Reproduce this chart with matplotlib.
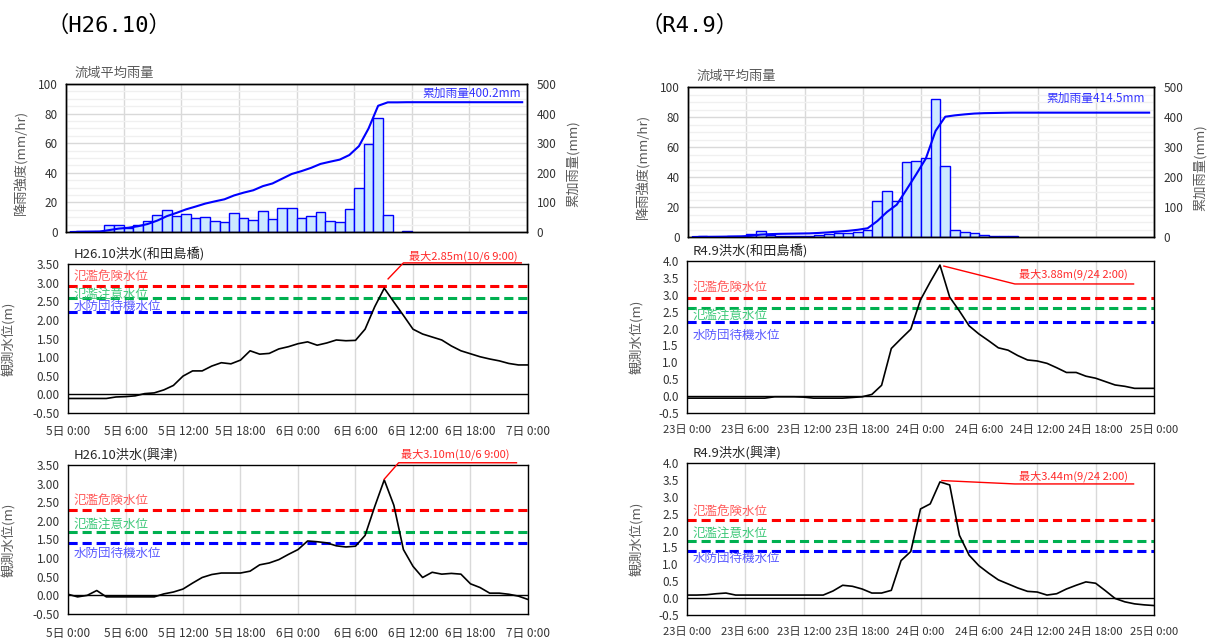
import matplotlib
matplotlib.use("Agg")
import matplotlib.pyplot as plt
import numpy as np
from matplotlib.ticker import FormatStrFormatter, MultipleLocator

plt.rcParams['font.family'] = ['Noto Sans CJK JP', 'DejaVu Sans']

W, H = 1221, 643

# ---------------------------------------------------------------- data
hours = list(range(49))

# hourly basin-average rainfall (mm/hr), one value per hour
h26_rain = [0, 0.5, 0.5, 0.5, 5, 5, 3, 5, 7.5, 11.5, 15, 11, 12, 9.5, 10, 7.5,
            7, 13, 9.5, 8, 14, 9, 16, 16, 9.5, 11, 13.5, 7.5, 7, 15.5, 30, 59.5,
            77, 11.5, 0, 0.5, 0, 0, 0, 0, 0, 0, 0, 0, 0, 0, 0, 0]
r4_rain = [0, 0.5, 0.3, 0.3, 0.5, 0.5, 2.0, 4.0, 1.5, 1.0, 0.5, 0.5, 0.5, 1.5,
           2.0, 2.5, 2.5, 3.5, 5.0, 24.0, 30.5, 24.0, 50.0, 51.0, 53.0, 92.0,
           47.4, 4.5, 3.3, 2.7, 1.3, 0.6, 0.6, 0.5, 0, 0, 0, 0, 0, 0, 0, 0, 0,
           0, 0, 0, 0, 0]
h26_total_label = "累加雨量400.2mm"
r4_total_label = "累加雨量414.5mm"

# observed water levels (m), hourly
h26_wadajima = [-0.11, -0.11, -0.11, -0.11, -0.11, -0.07, -0.06, -0.04, 0.02, 0.04,
                0.12, 0.24, 0.49, 0.63, 0.63, 0.76, 0.85, 0.82, 0.92, 1.17,
                1.08, 1.10, 1.22, 1.28, 1.36, 1.41, 1.32, 1.38, 1.46, 1.44,
                1.45, 1.75, 2.35, 2.85, 2.48, 2.12, 1.75, 1.62, 1.54, 1.46,
                1.30, 1.17, 1.09, 1.01, 0.95, 0.90, 0.83, 0.79, 0.79]
h26_okitsu = [0.03, -0.04, 0.00, 0.13, -0.04, -0.04, -0.04, -0.04, -0.04, -0.04,
              0.04, 0.09, 0.17, 0.33, 0.48, 0.56, 0.60, 0.60, 0.60, 0.65,
              0.82, 0.87, 0.96, 1.10, 1.23, 1.46, 1.44, 1.41, 1.33, 1.30,
              1.32, 1.61, 2.38, 3.10, 2.42, 1.23, 0.78, 0.48, 0.62, 0.57,
              0.59, 0.57, 0.31, 0.21, 0.06, 0.06, 0.03, -0.02, -0.11]
r4_wadajima = [-0.06, -0.06, -0.06, -0.06, -0.06, -0.06, -0.06, -0.06, -0.06, -0.02,
               -0.02, -0.02, -0.03, -0.06, -0.06, -0.06, -0.06, -0.04, -0.02, 0.05,
               0.32, 1.41, 1.70, 1.98, 2.85, 3.38, 3.88, 2.93, 2.52, 2.08,
               1.84, 1.64, 1.43, 1.36, 1.20, 1.07, 1.04, 0.97, 0.84, 0.70,
               0.70, 0.59, 0.53, 0.43, 0.33, 0.29, 0.23, 0.23, 0.23]
r4_okitsu = [0.09, 0.09, 0.10, 0.13, 0.15, 0.09, 0.09, 0.09, 0.09, 0.09,
             0.09, 0.09, 0.09, 0.09, 0.09, 0.21, 0.38, 0.35, 0.27, 0.15,
             0.15, 0.23, 1.11, 1.38, 2.64, 2.79, 3.44, 3.35, 1.86, 1.27,
             0.96, 0.74, 0.54, 0.42, 0.30, 0.20, 0.18, 0.09, 0.13, 0.27,
             0.38, 0.48, 0.44, 0.22, -0.01, -0.11, -0.17, -0.20, -0.22]

# warning levels: danger, caution, standby
level_names = ["氾濫危険水位", "氾濫注意水位", "水防団待機水位"]
wadajima_levels = [2.90, 2.60, 2.20]
okitsu_levels = [2.30, 1.70, 1.40]

h26_ticks = ["5日 0:00", "5日 6:00", "5日 12:00", "5日 18:00", "6日 0:00",
             "6日 6:00", "6日 12:00", "6日 18:00", "7日 0:00"]
r4_ticks = ["23日 0:00", "23日 6:00", "23日 12:00", "23日 18:00", "24日 0:00",
            "24日 6:00", "24日 12:00", "24日 18:00", "25日 0:00"]

# event start (month, day) used to stamp the peak time
h26_start = (10, 5)
r4_start = (9, 23)

# ---------------------------------------------------------------- styles
LINE_COLS = ['#FF0000', '#00B050', '#0000FF']
TEXT_COLS = ['#FF5A5A', '#3CC878', '#5A5AFF']
TICK_COL = '#333333'
LABEL_COL = '#595959'

fig = plt.figure(figsize=(W / 100, H / 100), dpi=100)


def px_rect(l, t, r, b):
    return [l / W, 1 - b / H, (r - l) / W, (b - t) / H]


def fx(x):
    return x / W


def fy(y):
    return 1 - y / H


def style_spines(ax):
    for s in ax.spines.values():
        s.set_color('black')
        s.set_linewidth(1.0)


def rain_panel(box, rain, total_label, label_x, label_y, ylab_x, ylab2_x):
    ax = fig.add_axes(px_rect(*box))
    n = len(rain)
    centers = np.arange(n) + 0.5
    vals = np.array(rain, dtype=float)
    keep = vals > 0
    ax.bar(centers[keep], vals[keep], width=1.0, color='#CCE8FF',
           edgecolor='#0000FF', linewidth=1.0, zorder=2)
    ax.set_xlim(0, 48)
    ax.set_ylim(0, 100)
    ax.set_yticks(range(0, 101, 20))
    ax.yaxis.set_minor_locator(MultipleLocator(5))
    ax.set_xticks(range(0, 49, 6))
    ax.set_xticklabels([])
    ax.grid(which='major', axis='y', color='#D9D9D9', lw=1.0, zorder=0)
    ax.grid(which='minor', axis='y', color='#F0F0F0', lw=1.0, zorder=0)
    ax.grid(which='major', axis='x', color='#D9D9D9', lw=1.0, zorder=0)
    ax.set_axisbelow(True)
    ax.tick_params(which='both', length=0, labelsize=8.5, colors=TICK_COL, pad=6)
    style_spines(ax)

    ax2 = ax.twinx()
    ax2.set_ylim(0, 500)
    ax2.set_yticks(range(0, 501, 100))
    ax2.plot(centers, np.cumsum(vals), color='#0000FF', lw=1.5)
    ax2.tick_params(length=0, labelsize=8.5, colors=TICK_COL, pad=7)
    style_spines(ax2)
    ax2.text(label_x, label_y, total_label, transform=ax.get_xaxis_transform(),
             ha='right', va='center', fontsize=8.5, color='#3333FF')

    t, b = box[1], box[3]
    fig.text(fx(ylab_x), fy((t + b) / 2 + 4), "降雨強度(mm/hr)", rotation=90,
             ha='center', va='center', fontsize=9.5, color=LABEL_COL)
    fig.text(fx(ylab2_x), fy((t + b) / 2 + 6), "累加雨量(mm)", rotation=90,
             ha='center', va='center', fontsize=9.5, color=LABEL_COL)
    fig.text(fx(box[0] + 9), fy(t - 11), "流域平均雨量", ha='left',
             va='center', fontsize=9.5, color=LABEL_COL)
    return ax


def peak_text(values, start):
    i = int(np.argmax(values))
    month, day = start
    return i, f"最大{values[i]:.2f}m({month}/{day + i // 24} {i % 24}:00)"


def water_panel(box, values, levels, title, ticks, ymax, yfmt, label_dy,
                ann_path, ann_text_xy, start, ylab_x, xtick_size):
    ax = fig.add_axes(px_rect(*box))
    ax.set_xlim(0, 48)
    ax.set_ylim(-0.5, ymax)
    ax.plot(hours, values, color='black', lw=1.2, zorder=4)
    ax.axhline(0, color='black', lw=1.0, zorder=3)
    for lvl, lc, tc, name, dy in zip(levels, LINE_COLS, TEXT_COLS, level_names, label_dy):
        ax.axhline(lvl, color=lc, lw=2.2, ls=(0, (3, 1.6)), zorder=2)
        ax.text(0.55, lvl + dy, name, color=tc, fontsize=9, ha='left',
                va='center', zorder=5)
    ax.set_xticks(range(0, 49, 6))
    ax.set_xticklabels(ticks)
    ax.set_yticks(np.arange(-0.5, ymax + 0.01, 0.5))
    ax.yaxis.set_major_formatter(FormatStrFormatter(yfmt))
    ax.grid(axis='x', color='#D9D9D9', lw=1.0)
    ax.set_axisbelow(True)
    ax.tick_params(axis='y', length=0, labelsize=8.5, colors=TICK_COL, pad=6)
    ax.tick_params(axis='x', length=0, labelsize=xtick_size, colors=TICK_COL, pad=9)
    style_spines(ax)

    i, txt = peak_text(values, start)
    xs, ys = zip(*ann_path)
    ax.plot(xs, ys, color='#FF0000', lw=1.0, clip_on=False, zorder=6)
    ax.text(ann_text_xy[0], ann_text_xy[1], txt, color='#FF2A2A', fontsize=8,
            ha='center', va='center', clip_on=False, zorder=6)

    ax.set_ylabel("観測水位(m)", fontsize=9.5, color=LABEL_COL)
    ax.yaxis.set_label_coords((ylab_x - box[0]) / (box[2] - box[0]), 0.5)
    fig.text(fx(box[0] + 6), fy(box[1] - 9), title, ha='left', va='center',
             fontsize=9.5, color='#262626')
    return ax


# ---------------------------------------------------------------- titles
TITLE_FONT = ['DejaVu Sans Mono', 'Noto Sans CJK JP']
fig.text(fx(47), fy(25), "（H26.10）", ha='left', va='center', fontsize=16,
         color='black', family=TITLE_FONT)
fig.text(fx(640), fy(25), "（R4.9）", ha='left', va='center', fontsize=16,
         color='black', family=TITLE_FONT)

# ---------------------------------------------------------------- H26.10
rain_panel((66, 84, 527, 232), h26_rain, h26_total_label, 47.4, 0.94, 21, 573)

water_panel((68, 264, 528, 413), h26_wadajima, wadajima_levels,
            "H26.10洪水(和田島橋)", h26_ticks, 3.5, '%.2f',
            [0.28, 0.09, 0.15],
            [(33.4, 3.10), (35.0, 3.53), (47.3, 3.53)], (41.3, 3.72),
            h26_start, 16, 8.5)

water_panel((68, 465, 528, 614), h26_okitsu, okitsu_levels,
            "H26.10洪水(興津)", h26_ticks, 3.5, '%.2f',
            [0.24, 0.21, -0.27],
            [(33.0, 3.12), (34.5, 3.56), (46.8, 3.56)], (40.4, 3.78),
            h26_start, 16, 8.5)

# ---------------------------------------------------------------- R4.9
rain_panel((688, 87, 1154, 237), r4_rain, r4_total_label, 47.1, 0.925, 643, 1200)

water_panel((687, 261, 1154, 413), r4_wadajima, wadajima_levels,
            "R4.9洪水(和田島橋)", r4_ticks, 4.0, '%.1f',
            [0.31, -0.21, -0.39],
            [(26.4, 3.85), (33.7, 3.32), (45.9, 3.32)], (39.7, 3.61),
            r4_start, 644, 8.1)

water_panel((687, 463, 1154, 615), r4_okitsu, okitsu_levels,
            "R4.9洪水(興津)", r4_ticks, 4.0, '%.1f',
            [0.26, 0.21, -0.24],
            [(26.2, 3.48), (33.7, 3.38), (45.9, 3.38)], (39.7, 3.62),
            r4_start, 644, 8.1)

fig.savefig("out.png", dpi=100, facecolor='white')
